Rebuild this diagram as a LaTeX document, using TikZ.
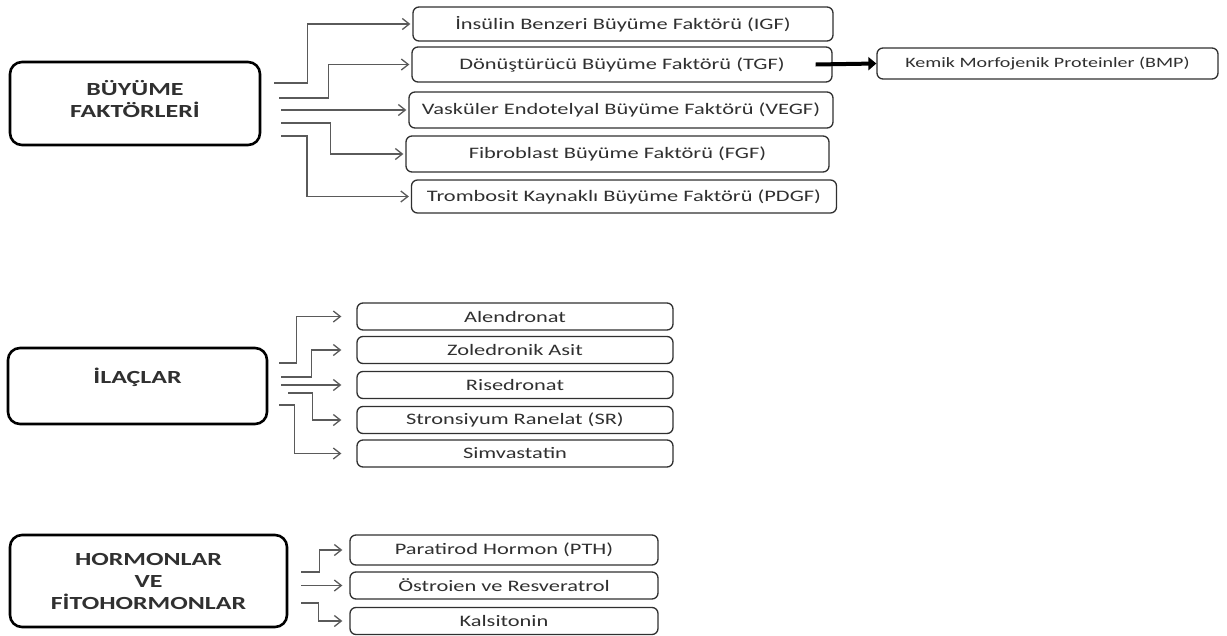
\documentclass[tikz,border=0pt]{standalone}
\usepackage{fontspec}
\setmainfont{Carlito}[FakeStretch=1.4]
\usetikzlibrary{arrows.meta, positioning}
\definecolor{linegray}{HTML}{5A5A5A}
\definecolor{txtgray}{HTML}{303030}

\begin{document}
\begin{tikzpicture}[x=1pt, y=-1pt,
    groupbox/.style={draw=black, line width=2.6pt, rounded corners=12pt, inner sep=0pt, align=center, font=\fontsize{18.5}{22}\selectfont\bfseries, text=txtgray},
    itembox/.style={draw=txtgray, line width=1.3pt, rounded corners=6pt, inner sep=0pt, font=\fontsize{16}{18}\selectfont, text=txtgray},
    conn/.style={draw=linegray, line width=1.3pt, -{Straight Barb[length=7pt, width=11pt]}},
    bigarrow/.style={line width=4pt, -{Triangle[length=8pt, width=13pt]}}
]
\useasboundingbox (0,0) rectangle (1227,635);

% Buyume faktorleri
\node[groupbox, minimum width=250pt, minimum height=83pt, text depth=10pt] (bf) at (135,103.5) {BÜYÜME\\FAKTÖRLERİ};
\node[itembox, minimum width=420pt, minimum height=34pt] (igf) at (623,24) {İnsülin Benzeri Büyüme Faktörü (IGF)};
\node[itembox, minimum width=420pt, minimum height=35pt] (tgf) at (622,64.5) {Dönüştürücü Büyüme Faktörü (TGF)};
\node[itembox, minimum width=424pt, minimum height=36pt] (vegf) at (621,110) {Vasküler Endotelyal Büyüme Faktörü (VEGF)};
\node[itembox, minimum width=423pt, minimum height=36pt] (fgf) at (617.5,154) {Fibroblast Büyüme Faktörü (FGF)};
\node[itembox, minimum width=425pt, minimum height=33pt] (pdgf) at (624,196.5) {Trombosit Kaynaklı Büyüme Faktörü (PDGF)};
\node[itembox, minimum width=341pt, minimum height=31pt, font=\fontsize{14.3}{16}\selectfont] (bmp) at (1047.5,63.5) {Kemik Morfojenik Proteinler (BMP)};

\draw[conn, shorten >=2pt] ([xshift=13pt, yshift=20.5pt]bf.east) -| ([xshift=-105pt]igf.west) -- (igf.west);
\draw[conn, shorten >=2pt] ([xshift=18pt, yshift=5.5pt]bf.east) -| ([xshift=-83pt]tgf.west) -- (tgf.west);
\draw[conn, shorten >=2pt] ([xshift=20pt]bf.east |- vegf.west) -- (vegf.west);
\draw[conn, shorten >=2pt] ([xshift=20pt, yshift=-19.5pt]bf.east) -| ([xshift=-75pt]fgf.west) -- (fgf.west);
\draw[conn, shorten >=2pt] ([xshift=20pt, yshift=-32.5pt]bf.east) -| ([xshift=-104pt]pdgf.west) -- (pdgf.west);
\draw[bigarrow] ([xshift=-17pt]tgf.east) -- (bmp.west);

% Ilaclar
\node[groupbox, minimum width=259pt, minimum height=76pt, text depth=20pt] (il) at (137.5,386) {İLAÇLAR};
\node[itembox, minimum width=316pt, minimum height=27pt] (alen) at (515,316.5) {Alendronat};
\node[itembox, minimum width=316pt, minimum height=27pt] (zole) at (515,350) {Zoledronik Asit};
\node[itembox, minimum width=316pt, minimum height=27pt] (rise) at (515,385) {Risedronat};
\node[itembox, minimum width=316pt, minimum height=27pt] (stro) at (515,420) {Stronsiyum Ranelat (SR)};
\node[itembox, minimum width=316pt, minimum height=27pt] (simv) at (515,453.5) {Simvastatin};

\draw[conn, shorten >=15pt] ([xshift=11pt, yshift=23pt]il.east) -| ([xshift=-60pt]alen.west) -- (alen.west);
\draw[conn, shorten >=15pt] ([xshift=13pt, yshift=9pt]il.east) -| ([xshift=-45pt]zole.west) -- (zole.west);
\draw[conn, shorten >=15pt] ([xshift=13pt]il.east |- rise.west) -- (rise.west);
\draw[conn, shorten >=15pt] ([xshift=20pt, yshift=-7pt]il.east) -| ([xshift=-44pt]stro.west) -- (stro.west);
\draw[conn, shorten >=15pt] ([xshift=11pt, yshift=-19pt]il.east) -| ([xshift=-62pt]simv.west) -- (simv.west);

% Hormonlar ve fitohormonlar
\node[groupbox, minimum width=277pt, minimum height=92pt] (hf) at (148.5,581) {HORMONLAR\\VE\\FİTOHORMONLAR};
\node[itembox, minimum width=308pt, minimum height=30pt] (pth) at (504,550) {Paratirod Hormon (PTH)};
\node[itembox, minimum width=308pt, minimum height=27pt] (ostr) at (504,585.5) {Östroien ve Resveratrol};
\node[itembox, minimum width=308pt, minimum height=27pt] (kals) at (504,621) {Kalsitonin};

\draw[conn, shorten >=7pt] ([xshift=13pt, yshift=9pt]hf.east) -| ([xshift=-30pt]pth.west) -- (pth.west);
\draw[conn, shorten >=7pt] ([xshift=13pt]hf.east |- ostr.west) -- (ostr.west);
\draw[conn, shorten >=7pt] ([xshift=13pt, yshift=-22pt]hf.east) -| ([xshift=-31pt]kals.west) -- (kals.west);
\end{tikzpicture}
\end{document}
